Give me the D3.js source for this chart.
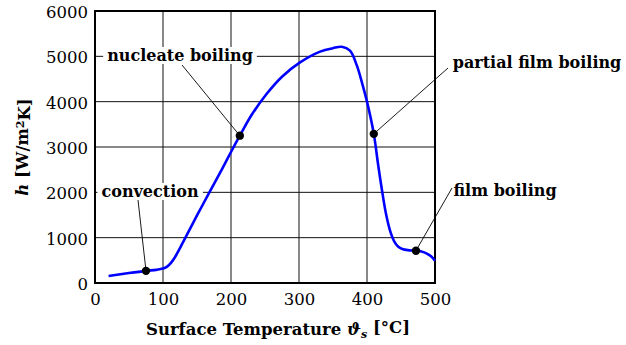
<!DOCTYPE html>
<html>
<head>
<meta charset="utf-8">
<script src="https://cdn.jsdelivr.net/npm/d3@7"></script>
<style>
  html, body { margin: 0; padding: 0; background: #fff; }
  svg { display: block; }
  text { font-family: "DejaVu Serif", serif; fill: #000; }
</style>
</head>
<body>
<svg id="chart" width="626" height="345"></svg>
<script>
// Boiling curve: heat transfer coefficient vs. surface temperature
const temperature = [20, 50, 75, 90, 100, 106, 112, 118, 125, 132, 150, 168, 187, 200, 213, 230, 252, 275, 301, 331, 350, 363, 375, 385, 393, 400, 410, 416, 422, 428, 434, 440, 446, 452, 460, 472, 480, 488, 495, 500];
const htc = [155, 220, 268, 290, 318, 360, 450, 580, 770, 975, 1490, 1992, 2520, 2890, 3250, 3700, 4163, 4550, 4860, 5103, 5180, 5210, 5125, 4800, 4400, 4000, 3290, 2650, 2050, 1520, 1150, 920, 800, 750, 725, 713, 695, 650, 580, 492];

// Marked regimes
const regimeNames = ["convection", "nucleate boiling", "partial film boiling", "film boiling"];
const regimeT = [75, 213, 410, 472];
const regimeH = [268, 3250, 3290, 713];

const xTicks = [0, 100, 200, 300, 400, 500];
const yTicks = [0, 1000, 2000, 3000, 4000, 5000, 6000];

const svg = d3.select("#chart");
const margin = { left: 95, right: 191, top: 11, bottom: 62 };
const W = 626, H = 345;
const x = d3.scaleLinear().domain([0, 500]).range([margin.left, W - margin.right]);
const y = d3.scaleLinear().domain([0, 6000]).range([H - margin.bottom, margin.top]);

// Grid
const grid = svg.append("g");
grid.selectAll("line.v").data(xTicks.slice(1, -1)).join("line")
  .attr("x1", d => x(d)).attr("x2", d => x(d))
  .attr("y1", y(0)).attr("y2", y(6000))
  .attr("stroke", "#111").attr("stroke-width", 1);
grid.selectAll("line.h").data(yTicks.slice(1, -1)).join("line")
  .attr("x1", x(0)).attr("x2", x(500))
  .attr("y1", d => y(d)).attr("y2", d => y(d))
  .attr("stroke", "#111").attr("stroke-width", 1);

// Axes (tick labels only, frame drawn separately)
const xAxis = svg.append("g").attr("transform", `translate(0,${y(0)})`)
  .call(d3.axisBottom(x).tickValues(xTicks).tickSize(0).tickPadding(9).tickFormat(d3.format("d")));
const yAxis = svg.append("g").attr("transform", `translate(${x(0)},0)`)
  .call(d3.axisLeft(y).tickValues(yTicks).tickSize(0).tickPadding(7).tickFormat(d3.format("d")));
[xAxis, yAxis].forEach(a => {
  a.select(".domain").remove();
  a.selectAll("text").style("font-family", "'DejaVu Serif', serif").style("font-size", "16.5px").attr("fill", "#000");
});
yAxis.selectAll("text").attr("dy", "0.40em");
xAxis.selectAll("text").attr("dy", "0.80em");

// Frame
svg.append("rect")
  .attr("x", x(0)).attr("y", y(6000))
  .attr("width", x(500) - x(0)).attr("height", y(0) - y(6000))
  .attr("fill", "none").attr("stroke", "#000").attr("stroke-width", 2);

// Curve
const pts = temperature.map((t, i) => [t, htc[i]]);
svg.append("path")
  .datum(pts)
  .attr("fill", "none")
  .attr("stroke", "#0000ff")
  .attr("stroke-width", 2.6)
  .attr("stroke-linejoin", "round")
  .attr("d", d3.line().x(d => x(d[0])).y(d => y(d[1])).curve(d3.curveCatmullRom.alpha(0.5)));

// Annotation labels: anchor (text centre & baseline) and leader start point
const labelPos = [
  { cx: 150, base: 197, lx: 138, ly: 200 },
  { cx: 180, base: 61, lx: 182, ly: 65 },
  { cx: 537, base: 68, lx: 448, ly: 68 },
  { cx: 505, base: 196, lx: 452, ly: 188 }
];

const ann = svg.append("g");
regimeNames.forEach((name, i) => {
  const p = labelPos[i];
  const t = ann.append("text")
    .attr("x", p.cx).attr("y", p.base)
    .attr("text-anchor", "middle")
    .style("font-size", "16px").style("font-weight", "bold")
    .text(name);
  const bb = t.node().getBBox();
  ann.insert("rect", () => t.node())
    .attr("x", bb.x - 4).attr("y", bb.y + 1)
    .attr("width", bb.width + 8).attr("height", bb.height - 2)
    .attr("fill", "#fff");
  ann.append("line")
    .attr("x1", p.lx).attr("y1", p.ly)
    .attr("x2", x(regimeT[i])).attr("y2", y(regimeH[i]))
    .attr("stroke", "#000").attr("stroke-width", 0.9);
});

svg.append("g").selectAll("circle").data(regimeT).join("circle")
  .attr("cx", d => x(d))
  .attr("cy", (d, i) => y(regimeH[i]))
  .attr("r", 4.2)
  .attr("fill", "#000");

// Axis titles
const yt = svg.append("text")
  .attr("transform", `translate(28,${(y(0) + y(6000)) / 2}) rotate(-90)`)
  .attr("text-anchor", "middle")
  .style("font-size", "16.5px").style("font-weight", "bold");
yt.append("tspan").style("font-style", "italic").text("h");
yt.append("tspan").text(" [W/m");
yt.append("tspan").attr("dy", "-0.4em").style("font-size", "11px").text("2");
yt.append("tspan").attr("dy", "0.4em").text("K]");

const xt = svg.append("text")
  .attr("x", 278).attr("y", 335)
  .attr("text-anchor", "middle")
  .style("font-size", "16.5px").style("font-weight", "bold");
xt.append("tspan").text("Surface Temperature ");
xt.append("tspan").style("font-style", "italic").text("ϑ");
xt.append("tspan").attr("dy", "0.3em").style("font-size", "11px").style("font-style", "italic").text("s");
xt.append("tspan").attr("dy", "-0.3em").text(" [°C]");
</script>
</body>
</html>
